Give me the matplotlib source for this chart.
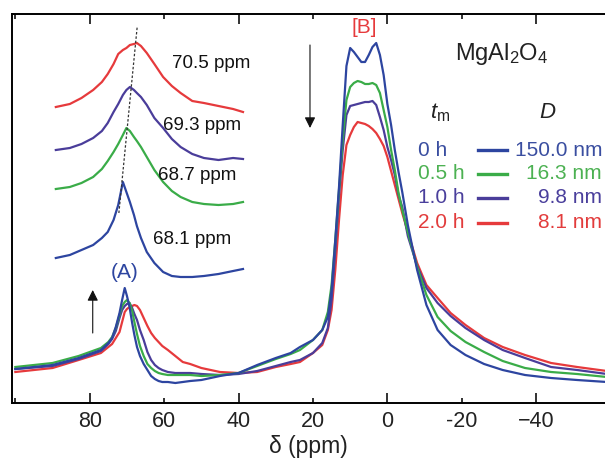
import numpy as np
import matplotlib
matplotlib.use("Agg")
import matplotlib.pyplot as plt
from matplotlib.ticker import FixedLocator, FuncFormatter

plt.rcParams['font.family'] = ['Liberation Sans', 'DejaVu Sans']
plt.rcParams['mathtext.fontset'] = 'custom'
plt.rcParams['mathtext.rm'] = 'Liberation Sans'
plt.rcParams['mathtext.it'] = 'Liberation Sans:italic'

# 27Al MAS NMR spectra, MgAl2O4 after milling
ppm = [100, 90, 83, 77, 75, 74, 73, 72, 71.3, 70.6, 70, 69.3, 68.6, 68, 67.3,
       66.5, 65.5, 64.5, 63.5, 62.5, 61.5, 60.5, 59, 57, 55, 53, 50, 45, 40, 35,
       30, 26, 23.5, 20, 17.5, 16, 15, 14, 13, 12, 11, 10, 9, 8, 7, 6, 5, 4, 3,
       2, 1, 0, -1, -2, -3, -4, -5.5, -8, -10.5, -13.5, -17, -21, -26, -31, -37,
       -44, -51, -59]

int_0h = [34, 38, 45, 53, 60, 65, 76, 90, 103, 115, 107, 96, 80, 68, 56,
          47, 39, 33, 27, 24, 22, 21, 21, 20, 21, 22, 23, 27, 30, 38,
          45, 50, 56, 63, 73, 86, 113, 163, 216, 278, 337, 355, 351, 346, 341, 341, 348, 356, 360,
          348, 328, 299, 278, 253, 231, 211, 178, 133, 98, 73, 58, 48, 39, 33, 28,
          25, 23, 21]
int_05h = [36, 40, 47, 55, 61, 66, 75, 88, 97, 101, 103, 100, 92, 81, 69,
           57, 47, 39, 35, 32, 30, 29, 28, 28, 28, 28, 27, 28, 30, 37,
           44, 49, 53, 63, 73, 91, 118, 163, 213, 263, 303, 316, 320, 322, 321, 319, 319, 320, 318,
           310, 293, 276, 253, 233, 210, 193, 171, 136, 108, 86, 72, 61, 51, 42, 35,
           31, 29, 26]
int_1h = [34, 37, 44, 52, 59, 64, 72, 85, 93, 97, 99, 100, 95, 89, 83,
          73, 63, 51, 43, 38, 35, 33, 31, 30, 30, 30, 29, 28, 29, 32,
          37, 41, 43, 50, 60, 75, 103, 153, 208, 253, 288, 297, 298, 299, 300, 301, 301, 302, 298,
          286, 273, 256, 243, 228, 208, 196, 167, 137, 115, 100, 87, 75, 63, 53, 45,
          36, 33, 29]
int_2h = [31, 35, 43, 50, 56, 59, 65, 71, 81, 91, 94, 96, 97, 98, 97,
          93, 85, 77, 70, 65, 61, 57, 53, 47, 41, 39, 35, 31, 30, 31,
          36, 39, 41, 50, 58, 73, 93, 133, 183, 228, 258, 268, 276, 281, 280, 279, 277, 274, 270,
          264, 257, 246, 232, 218, 204, 190, 171, 140, 118, 105, 90, 78, 65, 56, 48,
          40, 36, 32]

# expanded view of site (A), curves stacked with offsets
ins_ppm = [56.6, 59, 61, 63, 64.5, 65.5, 66.5, 67.3, 68.1, 68.7, 69.3, 70.0, 70.5,
           71.2, 72.2, 73.5, 75, 76.5, 78, 80, 82, 84.5, 87, 88.7]
ins_0h = [32, 35, 40, 45, 52, 58, 70, 85, 108, 98, 88, 75, 64,
          52, 38, 27, 18, 14, 13, 13, 14, 16, 19, 21]
ins_05h = [101, 103, 107, 113, 121, 129, 138, 146, 155, 162, 159, 153, 149,
           143, 133, 120, 108, 99, 93, 88, 86, 85, 86, 88]
ins_1h = [140, 142, 146, 152, 159, 167, 178, 186, 195, 200, 203, 200, 197,
          193, 185, 172, 162, 151, 143, 136, 132, 130, 132, 131]
ins_2h = [183, 186, 192, 200, 208, 216, 226, 236, 240, 242, 245, 246, 247,
          244, 237, 226, 213, 204, 197, 189, 187, 184, 181, 178]
peak_ppm = [68.1, 68.7, 69.3, 70.5]

times = ['0 h', '0.5 h', '1.0 h', '2.0 h']
sizes = ['150.0 nm', '16.3 nm', '9.8 nm', '8.1 nm']
colors = ['#2d45a0', '#3aac48', '#4a3d9a', '#e63a3c']
text_colors = ['#3a4ea0', '#4cb152', '#4a3f9c', '#e23c3c']

fig = plt.figure(figsize=(6.05, 4.67), dpi=100)
ax = fig.add_axes([12 / 605, 64 / 467, 593 / 605, 389 / 467])

for y, c in zip([int_2h, int_1h, int_05h, int_0h], colors[::-1]):
    ax.plot(ppm, y, color=c, lw=1.6)

ax.set_xlim(100.9, -58.5)
ax.set_ylim(0, 389)
ax.set_yticks([])
ax.spines['right'].set_visible(False)
for s in ['left', 'top', 'bottom']:
    ax.spines[s].set_linewidth(1.4)

ax.xaxis.set_major_locator(FixedLocator([80, 40, 0, -40]))
ax.xaxis.set_minor_locator(FixedLocator([100, 60, 20, -20]))
ax.xaxis.set_minor_formatter(FuncFormatter(lambda v, p: '' if v > 90 else f'{v:.0f}'))
ax.tick_params(axis='x', which='both', direction='in', top=True, width=1.3,
               labelsize=15.5, pad=6, colors='#222222')
ax.tick_params(axis='x', which='major', length=7)
ax.tick_params(axis='x', which='minor', length=3.5)
ax.set_xlabel('δ (ppm)', fontsize=16.5, labelpad=2, color='#222222')

ax.annotate('', xy=(79.2, 113), xytext=(79.2, 70),
            arrowprops=dict(arrowstyle='-|>', color='#111111', lw=0.8,
                            mutation_scale=16, shrinkA=0, shrinkB=0))
ax.annotate('', xy=(20.8, 275), xytext=(20.8, 358),
            arrowprops=dict(arrowstyle='-|>', color='#111111', lw=0.8,
                            mutation_scale=16, shrinkA=0, shrinkB=0))
ax.text(70.6, 131, '(A)', color=colors[0], fontsize=15, ha='center', va='center')
ax.text(6.3, 376, '[B]', color=colors[3], fontsize=15, ha='center', va='center')
ax.text(0.826, 0.897, r'MgAl$_2$O$_4$', transform=ax.transAxes, fontsize=17,
        ha='center', va='center', color='#222222')

# legend block
ax.text(0.722, 0.746, r'$t_{\mathrm{m}}$', transform=ax.transAxes, fontsize=16,
        ha='center', va='center', color='#222222')
ax.text(0.904, 0.746, r'$D$', transform=ax.transAxes, fontsize=16,
        ha='center', va='center', color='#222222')
rows = [0.650, 0.589, 0.527, 0.463]
for t, d, c, tc, yr in zip(times, sizes, colors, text_colors, rows):
    ax.text(0.685, yr, t, transform=ax.transAxes, fontsize=15, color=tc,
            ha='left', va='center')
    ax.plot([0.786, 0.835], [yr, yr], transform=ax.transAxes, color=c, lw=2.4)
    ax.text(0.995, yr, d, transform=ax.transAxes, fontsize=15, color=tc,
            ha='right', va='center')

# inset with stacked site (A) peaks
ins = fig.add_axes([50 / 605, 177 / 467, 200 / 605, 270 / 467])
ins.set_xlim(55.6, 89.9)
ins.set_ylim(0, 270)
ins.axis('off')
ins_curves = [ins_0h, ins_05h, ins_1h, ins_2h]
for y, c in zip(ins_curves, colors):
    ins.plot(ins_ppm, y, color=c, lw=1.6)

peak_h = [y[ins_ppm.index(p)] for y, p in zip(ins_curves, peak_ppm)]
k, b = np.polyfit(peak_h, peak_ppm, 1)
hh = np.array([77, 263])
ins.plot(k * hh + b, hh, color='#333333', lw=0.9, ls=(0, (2, 1.5)))

label_pos = [(153, 239), (158, 176), (163, 125), (172, 63)]
for p, (lx, ly) in zip(peak_ppm, label_pos):
    fig.text(lx / 605, 1 - ly / 467, f'{p} ppm', fontsize=13.5, ha='left',
             va='center', color='#111111')

fig.savefig('out.png', dpi=100)
